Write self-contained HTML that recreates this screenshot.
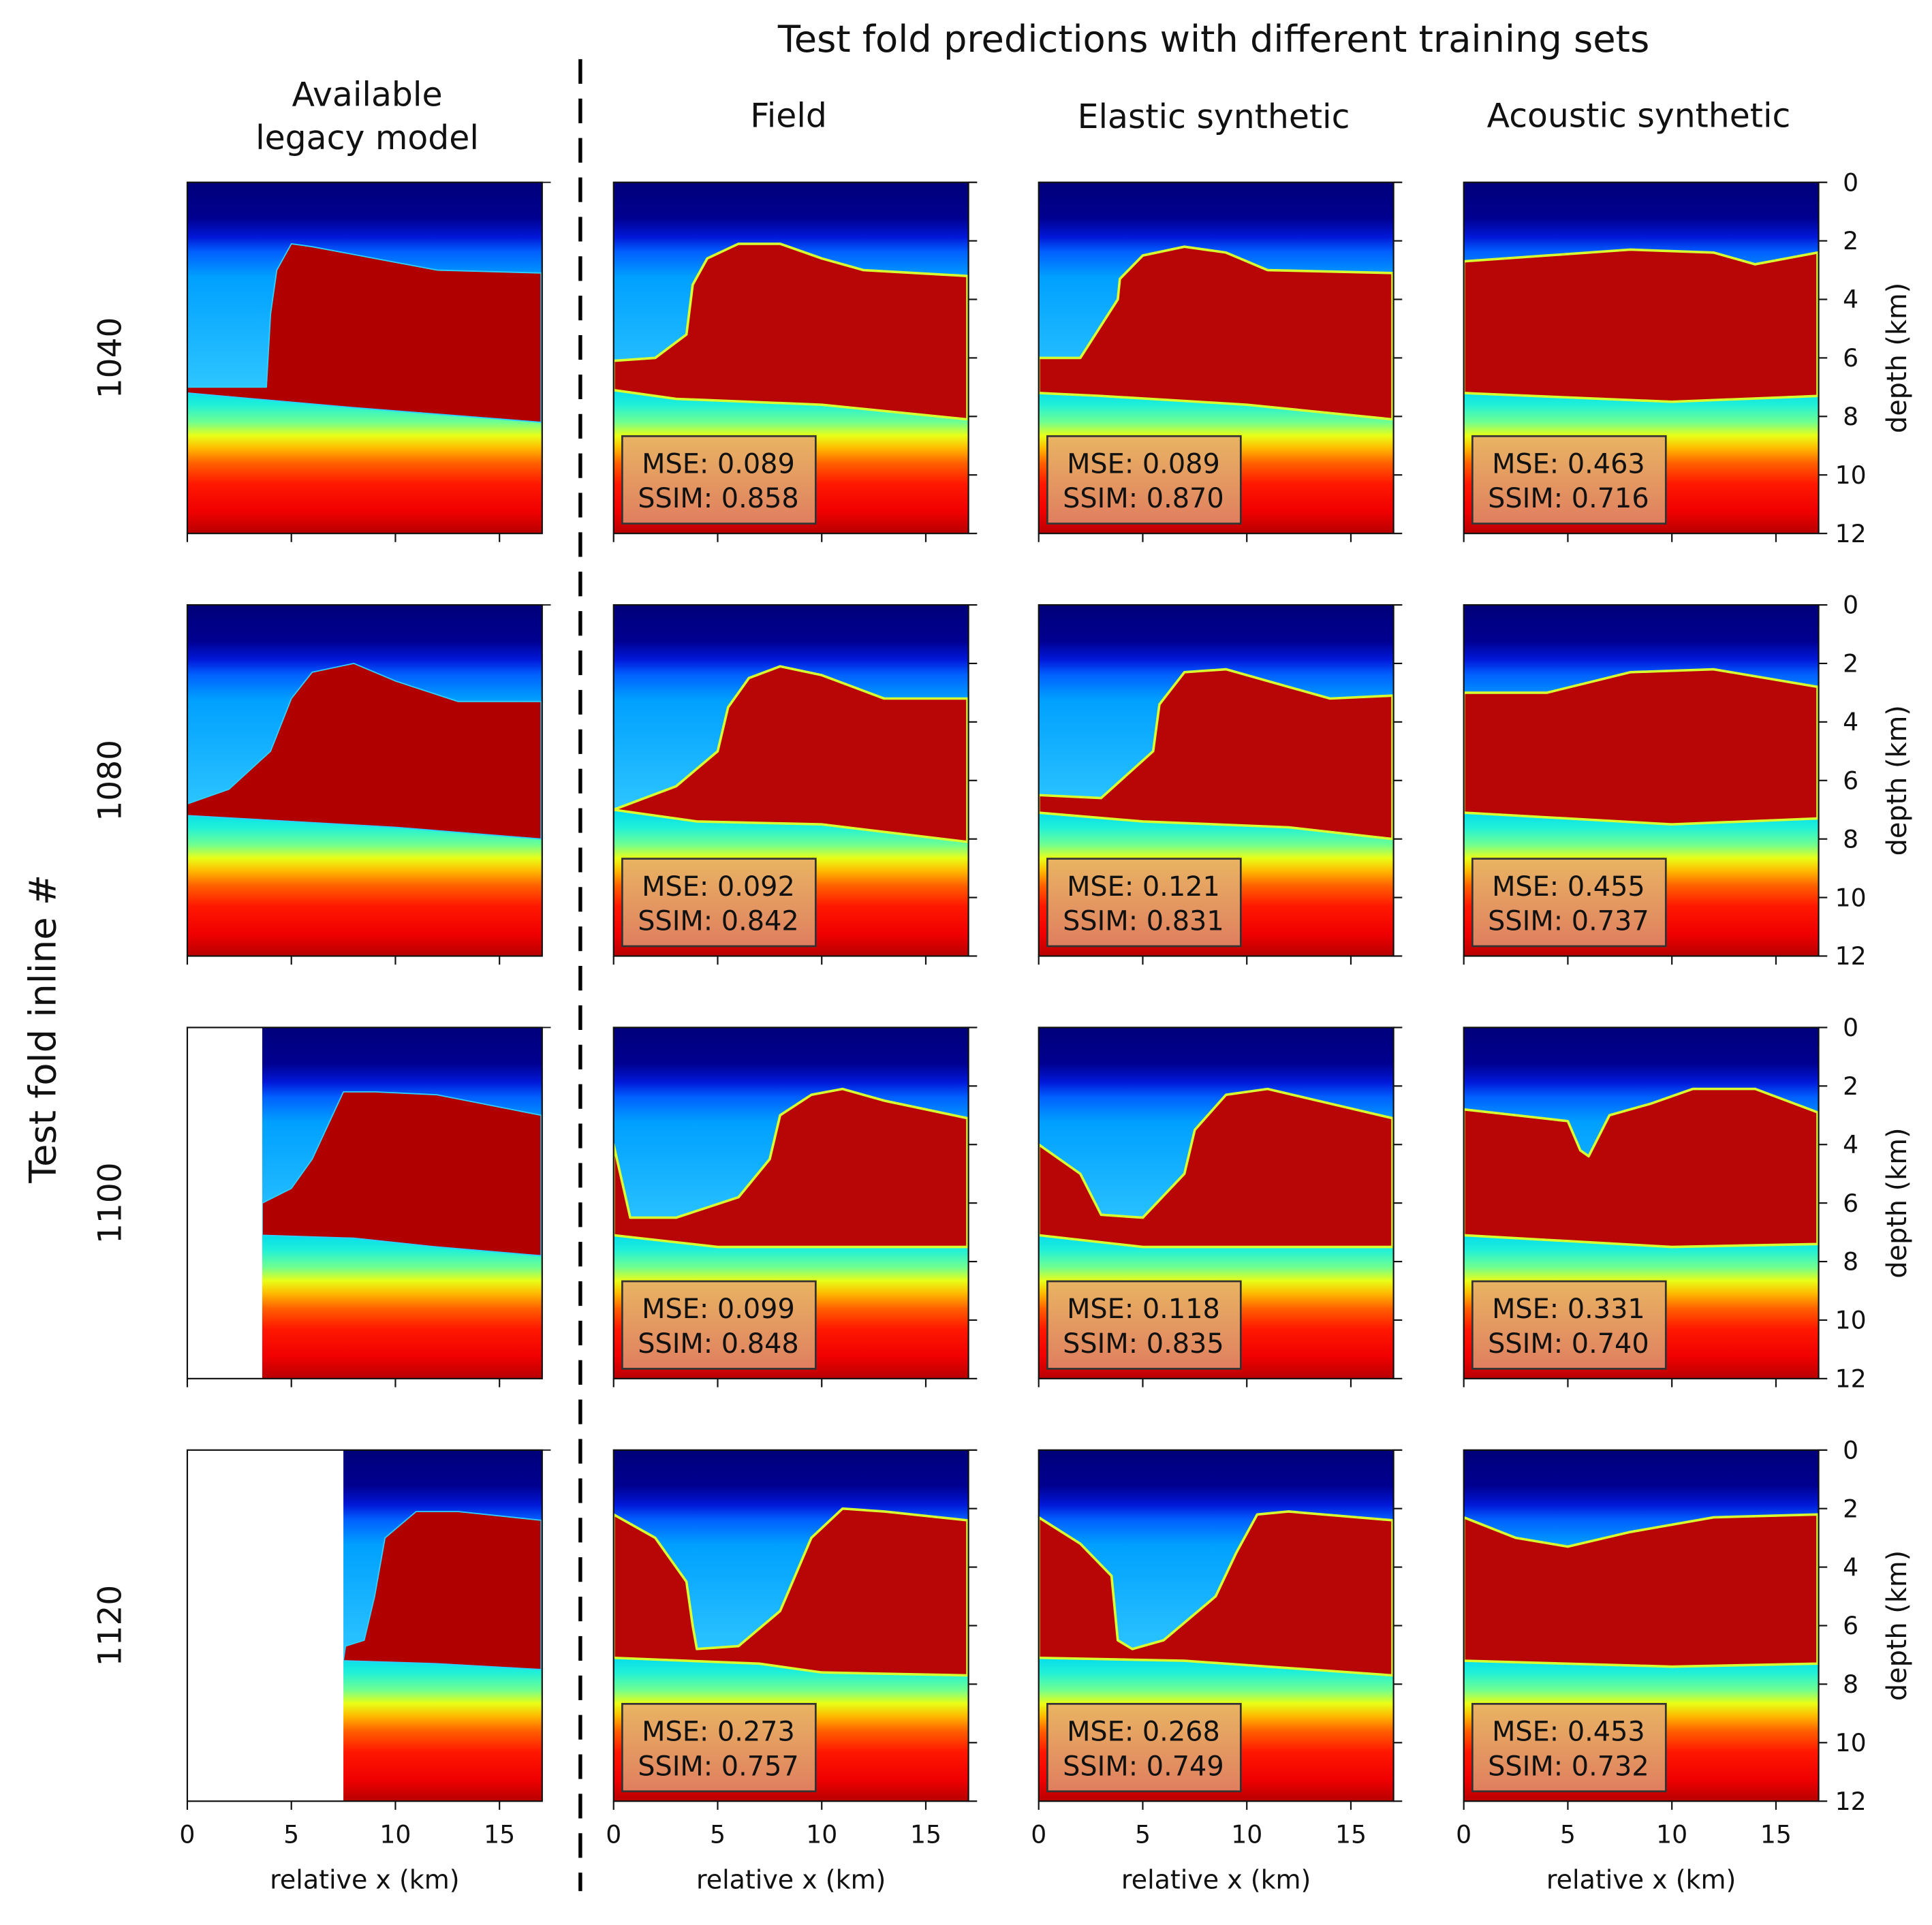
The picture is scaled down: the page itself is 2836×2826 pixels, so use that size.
<!DOCTYPE html>
<html><head><meta charset="utf-8"><style>
html,body{margin:0;padding:0;background:#fff}
svg{display:block}
text{font-family:"DejaVu Sans","Liberation Sans",sans-serif;fill:#111}
</style></head><body>
<svg id="fig" xmlns="http://www.w3.org/2000/svg" width="2836" height="2826" viewBox="0 0 1568 1562.5">
<defs>
<linearGradient id="gUp" x1="0" y1="0" x2="0" y2="1">
<stop offset="0" stop-color="#00007a"/><stop offset="0.17" stop-color="#000090"/>
<stop offset="0.26" stop-color="#0018d8"/><stop offset="0.33" stop-color="#0060ff"/>
<stop offset="0.45" stop-color="#00a0ff"/><stop offset="1" stop-color="#30c8ff"/>
</linearGradient>
<linearGradient id="gSed" x1="0" y1="0" x2="0" y2="1">
<stop offset="0" stop-color="#00d8f0"/><stop offset="0.12" stop-color="#20f0d8"/>
<stop offset="0.24" stop-color="#70ff90"/><stop offset="0.33" stop-color="#e8ff18"/>
<stop offset="0.42" stop-color="#ffb800"/><stop offset="0.52" stop-color="#ff6000"/>
<stop offset="0.66" stop-color="#ff1800"/><stop offset="0.85" stop-color="#f00000"/><stop offset="1" stop-color="#b80000"/>
</linearGradient>
<linearGradient id="gBox" x1="0" y1="0" x2="0" y2="1">
<stop offset="0" stop-color="#e8b462"/><stop offset="1" stop-color="#e07e60"/>
</linearGradient>
</defs>
<g id="panels"></g>
<g id="labels"></g>
</svg>
<script>
const NS='http://www.w3.org/2000/svg';
const inlines=['1040','1080','1100','1120'];
const columns=['legacy','Field','Elastic synthetic','Acoustic synthetic'];
const mse=[['0.089','0.089','0.463'],['0.092','0.121','0.455'],['0.099','0.118','0.331'],['0.273','0.268','0.453']];
const ssim=[['0.858','0.870','0.716'],['0.842','0.831','0.737'],['0.848','0.835','0.740'],['0.757','0.749','0.732']];
const blankLeft=[0,0,3.6,7.5];
const xTicks=[0,5,10,15];
const depthTicks=[0,2,4,6,8,10,12];
const salt=[
 [[[0,7],[3.8,7],[4,4.5],[4.3,3],[5,2.1],[6,2.2],[9,2.6],[12,3],[17,3.1],[17,8.2],[8,7.7],[0,7.2]],
  [[0,6.1],[2,6],[3.5,5.2],[3.8,3.5],[4.5,2.6],[6,2.1],[8,2.1],[10,2.6],[12,3],[17,3.2],[17,8.1],[10,7.6],[3,7.4],[0,7.1]],
  [[0,6],[2,6],[3.8,4],[3.9,3.3],[5,2.5],[7,2.2],[9,2.4],[11,3],[17,3.1],[17,8.1],[10,7.6],[3,7.3],[0,7.2]],
  [[0,2.7],[4,2.5],[8,2.3],[12,2.4],[14,2.8],[17,2.4],[17,7.3],[10,7.5],[0,7.2]]],
 [[[0,6.8],[2,6.3],[4,5],[5,3.2],[6,2.3],[8,2],[10,2.6],[13,3.3],[17,3.3],[17,8],[10,7.6],[0,7.2]],
  [[0,7],[3,6.2],[5,5],[5.5,3.5],[6.5,2.5],[8,2.1],[10,2.4],[13,3.2],[17,3.2],[17,8.1],[10,7.5],[4,7.4],[0,7]],
  [[0,6.5],[3,6.6],[5.5,5],[5.8,3.4],[7,2.3],[9,2.2],[11,2.6],[14,3.2],[17,3.1],[17,8],[12,7.6],[5,7.4],[0,7.1]],
  [[0,3],[4,3],[8,2.3],[12,2.2],[17,2.8],[17,7.3],[10,7.5],[0,7.1]]],
 [[[3.6,6],[5,5.5],[6,4.5],[7.5,2.2],[9,2.2],[12,2.3],[17,3],[17,7.8],[12,7.5],[8,7.2],[3.6,7.1]],
  [[0,4],[0.8,6.5],[3,6.5],[6,5.8],[7.5,4.5],[8,3],[9.5,2.3],[11,2.1],[13,2.5],[17,3.1],[17,7.5],[5,7.5],[0,7.1]],
  [[0,4],[2,5],[3,6.4],[5,6.5],[7,5],[7.5,3.5],[9,2.3],[11,2.1],[14,2.6],[17,3.1],[17,7.5],[5,7.5],[0,7.1]],
  [[0,2.8],[5,3.2],[5.6,4.2],[6,4.4],[7,3],[9,2.6],[11,2.1],[14,2.1],[17,2.9],[17,7.4],[10,7.5],[0,7.1]]],
 [[[7.5,7.2],[7.6,6.7],[8.5,6.5],[9,5],[9.5,3],[11,2.1],[13,2.1],[17,2.4],[17,7.5],[12,7.3],[7.5,7.2]],
  [[0,2.2],[2,3],[3.5,4.5],[3.8,6],[4,6.8],[6,6.7],[8,5.5],[9.5,3],[11,2],[13,2.1],[17,2.4],[17,7.7],[10,7.6],[7,7.3],[0,7.1]],
  [[0,2.3],[2,3.2],[3.5,4.3],[3.8,6.5],[4.5,6.8],[6,6.5],[8.5,5],[9.5,3.5],[10.5,2.2],[12,2.1],[17,2.4],[17,7.7],[7,7.2],[0,7.1]],
  [[0,2.3],[2.5,3],[5,3.3],[8,2.8],[12,2.3],[17,2.2],[17,7.3],[10,7.4],[0,7.2]]]
];
const colX=[152,498,843,1188], rowY=[148,491,834,1177], PW=288, PH=285;
const P=document.getElementById('panels'), L=document.getElementById('labels');
function el(tag,attrs,parent){const e=document.createElementNS(NS,tag);for(const k in attrs)e.setAttribute(k,attrs[k]);parent.appendChild(e);return e;}
function txt(s,x,y,size,parent,extra){const t=el('text',Object.assign({x:x,y:y,'font-size':size,'text-anchor':'middle'},extra||{}),parent);t.textContent=s;return t;}
for(let r=0;r<4;r++)for(let c=0;c<4;c++){
 const x0=colX[c],y0=rowY[r];
 const sx=v=>x0+Math.min(v,17.05)/17.05*PW, sy=d=>y0+d/12*PH;
 const g=el('g',{},P);
 
 
 const cp=el('clipPath',{id:'cp'+r+c},g); el('rect',{x:x0,y:y0,width:PW,height:PH},cp);
 const inner=el('g',{'clip-path':'url(#cp'+r+c+')'},g);
 el('rect',{x:x0,y:y0,width:PW,height:sy(7.2)-y0,fill:'url(#gUp)'},inner);
 el('rect',{x:x0,y:sy(7.0),width:PW,height:sy(12)-sy(7.0),fill:'url(#gSed)'},inner);
 const pts=salt[r][c].map(p=>sx(p[0])+','+sy(p[1])).join(' ');
 const poly=el('polygon',{points:pts,fill:c===0?'#b00000':'#b80606',stroke:c===0?'#30d0ff':'#d8ff30','stroke-width':c===0?1:2,'stroke-linejoin':'round'},inner);
 
 
 if(c===0&&blankLeft[r]>0){el('rect',{x:x0,y:y0,width:sx(blankLeft[r])-x0,height:PH,fill:'#fff'},inner);}
 el('rect',{x:x0,y:y0,width:PW,height:PH,fill:'none',stroke:'#111','stroke-width':1.2},g);
 // x ticks
 xTicks.forEach(v=>{el('line',{x1:sx(v),x2:sx(v),y1:y0+PH,y2:y0+PH+7,stroke:'#111','stroke-width':1.2},g);
   if(c>0)el('line',{x1:sx(v),x2:sx(v),y1:y0,y2:y0-0,stroke:'#111'},g);
   if(r===3)txt(String(v),sx(v),y0+PH+34,20,g);});
 el('line',{x1:x0+PW,x2:x0+PW+7,y1:y0,y2:y0,stroke:'#111'},g);
 if(c>0)depthTicks.forEach(d=>{el('line',{x1:x0+PW,x2:x0+PW+7,y1:sy(d),y2:sy(d),stroke:'#111','stroke-width':1.2},g);
   if(c===3)txt(String(d),x0+PW+26,sy(d)+7,20,g);});
 if(r===3)txt('relative x (km)',x0+PW/2,1533,21,g);
 if(c>0){
  const b=el('g',{},g);
  
  
  el('rect',{x:x0+7,y:y0+206,width:157,height:71,fill:'url(#gBox)',stroke:'#333','stroke-width':1.5},b);
  txt('MSE: '+mse[r][c-1],x0+85,y0+236,22,b);
  txt('SSIM: '+ssim[r][c-1],x0+85,y0+264,22,b);
 }
}
txt('Test fold predictions with different training sets',985,42,30,L);
txt('Available',298,86,27,L);txt('legacy model',298,121,27,L);
txt('Field',640,103,27,L);txt('Elastic synthetic',985,104,27,L);txt('Acoustic synthetic',1330,103,27,L);
el('line',{x1:471,x2:471,y1:48,y2:1535,stroke:'#000','stroke-width':3,'stroke-dasharray':'20,12'},L);
inlines.forEach((s,i)=>{const cy=rowY[i]+PH/2;txt(s,98,cy,26,L,{transform:'rotate(-90 98 '+cy+')'});
 txt('depth (km)',1547,cy,22,L,{transform:'rotate(-90 1547 '+cy+')'});});
txt('Test fold inline #',45,835,30,L,{transform:'rotate(-90 45 835)'});
</script>
</body></html>
